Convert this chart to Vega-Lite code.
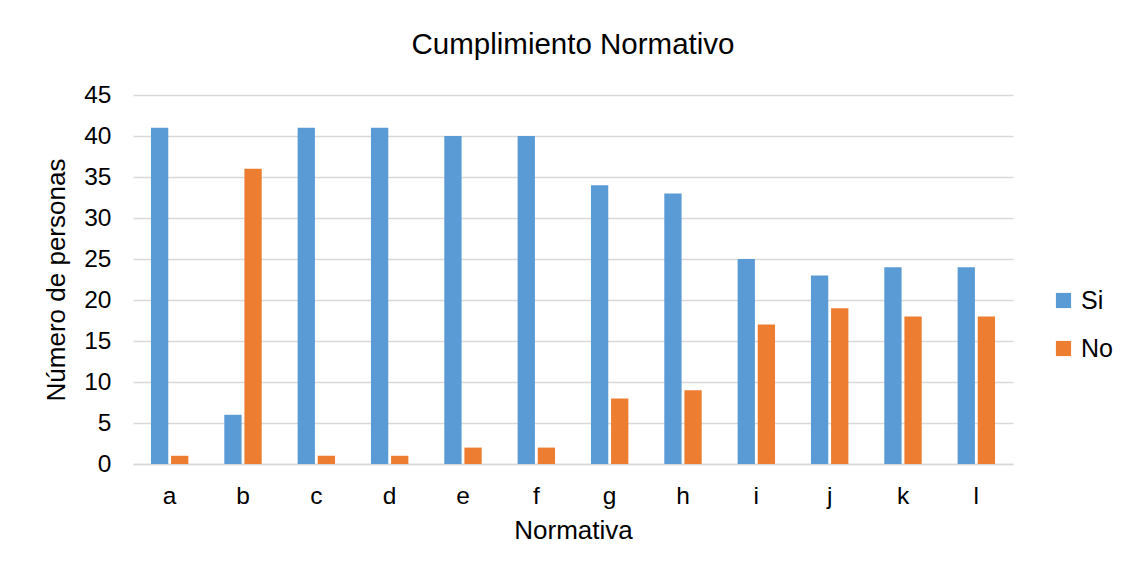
{
  "$schema": "https://vega.github.io/schema/vega-lite/v6.json",
  "width": 880,
  "height": 369,
  "autosize": {"type": "none"},
  "padding": {"left": 133, "top": 95, "right": 122, "bottom": 113},
  "background": "white",
  "title": {"text": "Cumplimiento Normativo", "font": "Liberation Sans", "fontSize": 29.5, "fontWeight": "normal", "color": "#000000", "anchor": "middle", "offset": 22},
  "data": {"values": [
    {"n": "a", "r": "Si", "v": 41}, {"n": "a", "r": "No", "v": 1},
    {"n": "b", "r": "Si", "v": 6}, {"n": "b", "r": "No", "v": 36},
    {"n": "c", "r": "Si", "v": 41}, {"n": "c", "r": "No", "v": 1},
    {"n": "d", "r": "Si", "v": 41}, {"n": "d", "r": "No", "v": 1},
    {"n": "e", "r": "Si", "v": 40}, {"n": "e", "r": "No", "v": 2},
    {"n": "f", "r": "Si", "v": 40}, {"n": "f", "r": "No", "v": 2},
    {"n": "g", "r": "Si", "v": 34}, {"n": "g", "r": "No", "v": 8},
    {"n": "h", "r": "Si", "v": 33}, {"n": "h", "r": "No", "v": 9},
    {"n": "i", "r": "Si", "v": 25}, {"n": "i", "r": "No", "v": 17},
    {"n": "j", "r": "Si", "v": 23}, {"n": "j", "r": "No", "v": 19},
    {"n": "k", "r": "Si", "v": 24}, {"n": "k", "r": "No", "v": 18},
    {"n": "l", "r": "Si", "v": 24}, {"n": "l", "r": "No", "v": 18}
  ]},
  "mark": {"type": "bar"},
  "encoding": {
    "x": {"field": "n", "type": "nominal", "title": "Normativa",
      "scale": {"paddingInner": 0.49, "paddingOuter": 0.245},
      "axis": {"labelAngle": 0, "labelFont": "Liberation Sans", "labelFontSize": 24.5, "labelColor": "#000000", "labelPadding": 20,
        "titleFont": "Liberation Sans", "titleFontSize": 26, "titleFontWeight": "normal", "titleColor": "#000000", "titlePadding": 10,
        "ticks": false, "domainColor": "#d9d9d9", "domainWidth": 1.5}},
    "xOffset": {"field": "r", "type": "nominal", "sort": ["Si", "No"], "scale": {"paddingInner": 0.14}},
    "y": {"field": "v", "type": "quantitative", "title": "Número de personas",
      "scale": {"domain": [0, 45]},
      "axis": {"values": [0,5,10,15,20,25,30,35,40,45], "domain": false, "ticks": false, "labelFont": "Liberation Sans", "labelFontSize": 24.5, "labelColor": "#000000", "labelPadding": 22,
        "gridColor": "#d9d9d9", "gridWidth": 1.5,
        "titleFont": "Liberation Sans", "titleFontSize": 26, "titleFontWeight": "normal", "titleColor": "#000000", "titlePadding": 14}},
    "color": {"field": "r", "type": "nominal", "sort": ["Si", "No"], "title": null,
      "scale": {"domain": ["Si", "No"], "range": ["#5b9bd5", "#ed7d31"]},
      "legend": {"orient": "none", "legendX": 918, "legendY": 193, "symbolType": "square", "symbolSize": 230, "symbolStrokeWidth": 0, "symbolOpacity": 1,
        "labelFont": "Liberation Sans", "labelFontSize": 25, "labelColor": "#000000", "rowPadding": 22, "labelOffset": 5}}
  },
  "config": {"view": {"stroke": null}}
}
